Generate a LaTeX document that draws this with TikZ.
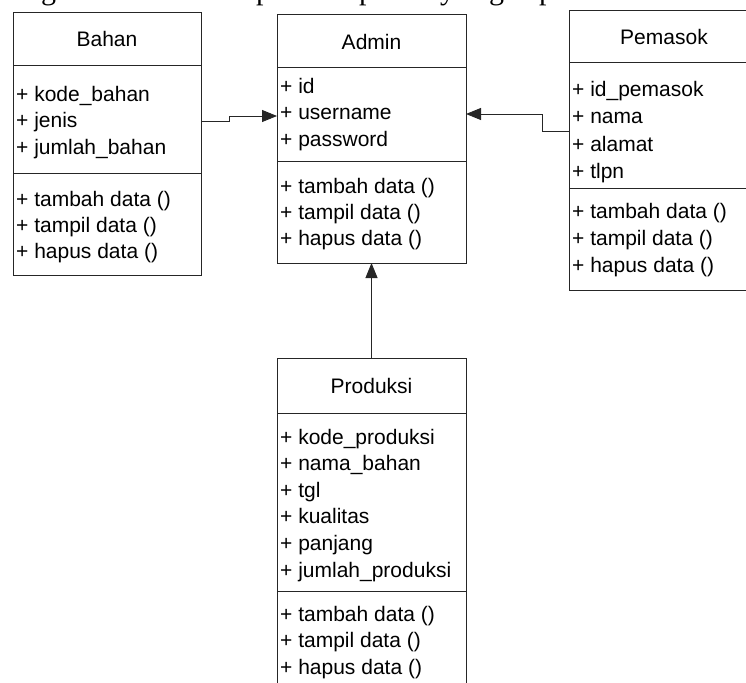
\documentclass[tikz,border=0pt]{standalone}
\usepackage{fontspec}
\setmainfont{Liberation Sans}
\newfontfamily\serifface{Liberation Serif}
\usetikzlibrary{arrows.meta}
\begin{document}
\begin{tikzpicture}[x=1pt,y=-1pt,
  cls/.style={draw=black!85, line width=0.9pt, rectangle, inner sep=0pt, outer sep=0pt, anchor=north west},
  sep/.style={draw=black!85, line width=0.9pt},
  conn/.style={draw=black!85, line width=0.9pt, -{Triangle[length=15pt,width=12pt]}},
  title/.style={anchor=base, inner sep=0pt, font=\fontsize{21}{25}\selectfont},
  item/.style={anchor=base west, inner sep=0pt, font=\fontsize{21}{25}\selectfont},
  cut/.style={anchor=base west, inner sep=0pt, font=\serifface\fontsize{30}{34}\selectfont}]
\useasboundingbox (0,0) rectangle (746,682);
\clip (0,0) rectangle (746,682);

% cut-off line of text at the top
\node[cut] (c1) at (41,0) {g};
\node[cut] (c2) at (256,0) {p};
\node[cut] (c3) at (359,0) {p};
\node[cut] (c4) at (440,0) {y};
\node[cut] (c5) at (489,0) {g};
\node[cut] (c6) at (539,0) {p};

% class boxes
\node[cls, minimum width=188pt, minimum height=263pt] (bahan) at (13,12) {};
\node[cls, minimum width=189pt, minimum height=249pt] (admin) at (277,14) {};
\node[cls, minimum width=190pt, minimum height=280pt] (pemasok) at (569,10) {};
\node[cls, minimum width=189pt, minimum height=340pt] (produksi) at (277,358) {};

% compartment separators
\draw[sep] ([yshift=-53pt]bahan.north west) -- ([yshift=-53pt]bahan.north east);
\draw[sep] ([yshift=-161pt]bahan.north west) -- ([yshift=-161pt]bahan.north east);
\draw[sep] ([yshift=-53pt]admin.north west) -- ([yshift=-53pt]admin.north east);
\draw[sep] ([yshift=-147pt]admin.north west) -- ([yshift=-147pt]admin.north east);
\draw[sep] ([yshift=-52pt]pemasok.north west) -- ([yshift=-52pt]pemasok.north east);
\draw[sep] ([yshift=-178pt]pemasok.north west) -- ([yshift=-178pt]pemasok.north east);
\draw[sep] ([yshift=-55pt]produksi.north west) -- ([yshift=-55pt]produksi.north east);
\draw[sep] ([yshift=-233pt]produksi.north west) -- ([yshift=-233pt]produksi.north east);

% Bahan
\node[title] (bt) at (107,47) {Bahan};
\node[item] (ba1) at (16,102) {+ kode\_bahan};
\node[item] (ba2) at (16,128) {+ jenis};
\node[item] (ba3) at (16,154) {+ jumlah\_bahan};
\node[item] (bm1) at (16,206) {+ tambah data ()};
\node[item] (bm2) at (16,232) {+ tampil data ()};
\node[item] (bm3) at (16,258) {+ hapus data ()};

% Admin
\node[title] (at) at (371.5,50) {Admin};
\node[item] (aa1) at (280,94) {+ id};
\node[item] (aa2) at (280,120) {+ username};
\node[item] (aa3) at (280,146) {+ password};
\node[item] (am1) at (280,193) {+ tambah data ()};
\node[item] (am2) at (280,219) {+ tampil data ()};
\node[item] (am3) at (280,245) {+ hapus data ()};

% Pemasok
\node[title] (pt) at (664,45) {Pemasok};
\node[item] (pa1) at (572,97) {+ id\_pemasok};
\node[item] (pa2) at (572,124) {+ nama};
\node[item] (pa3) at (572,151) {+ alamat};
\node[item] (pa4) at (572,178) {+ tlpn};
\node[item] (pm1) at (572,218) {+ tambah data ()};
\node[item] (pm2) at (572,245) {+ tampil data ()};
\node[item] (pm3) at (572,272) {+ hapus data ()};

% Produksi
\node[title] (prt) at (371.5,393) {Produksi};
\node[item] (pra1) at (280,444) {+ kode\_produksi};
\node[item] (pra2) at (280,470.6) {+ nama\_bahan};
\node[item] (pra3) at (280,497.2) {+ tgl};
\node[item] (pra4) at (280,523.8) {+ kualitas};
\node[item] (pra5) at (280,550.4) {+ panjang};
\node[item] (pra6) at (280,577) {+ jumlah\_produksi};
\node[item] (prm1) at (280,621) {+ tambah data ()};
\node[item] (prm2) at (280,647.5) {+ tampil data ()};
\node[item] (prm3) at (280,674) {+ hapus data ()};

% connectors
\draw[conn] ([yshift=-109pt]bahan.north east) -- ++(28,0) |- ([yshift=-102pt]admin.north west);
\draw[conn] ([yshift=-121pt]pemasok.north west) -- ++(-27,0) |- ([yshift=-100pt]admin.north east);
\draw[conn] (produksi.north) -- (admin.south);
\end{tikzpicture}
\end{document}
